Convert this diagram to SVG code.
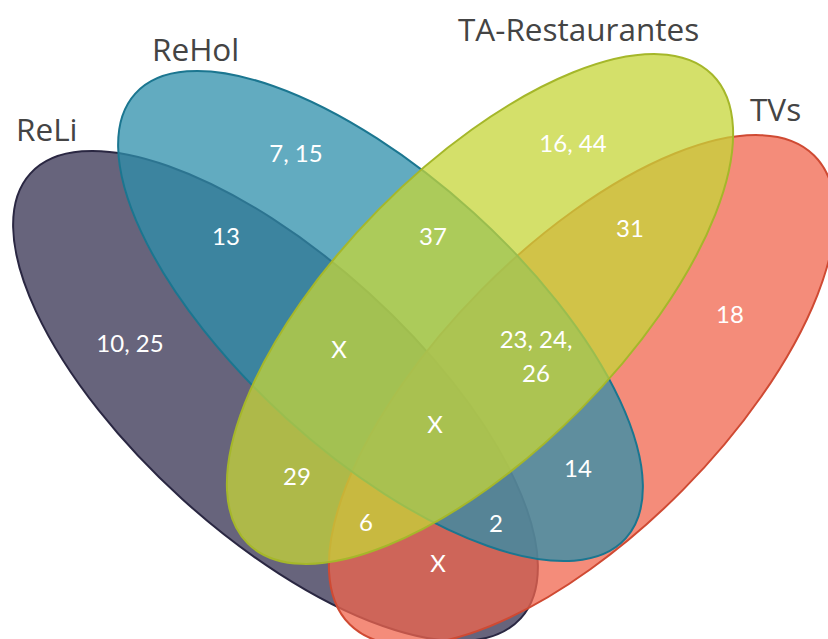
<svg xmlns="http://www.w3.org/2000/svg" width="828" height="639" viewBox="0 0 828 639">
<style>
.set{fill-opacity:0.75;stroke-width:2}
.title{font-family:"Open Sans","Liberation Sans",sans-serif;font-size:31.5px;fill:#444444}
.num{font-family:Lato,"Liberation Sans",sans-serif;font-size:24px;fill:#ffffff;text-anchor:middle}
</style>
<rect width="828" height="639" fill="#ffffff"/>
<g id="connectors"/>
<g id="ReLi">
<ellipse class="set" cx="275.5" cy="396" rx="331" ry="139" transform="rotate(42.2 275.5 396)" fill="#343050" stroke="#2a2742"/>
</g>
<g id="TVs">
<ellipse class="set" cx="582" cy="390" rx="330" ry="142" transform="rotate(-45.3 582 390)" fill="#f0664e" stroke="#cf4a33"/>
</g>
<g id="ReHol">
<ellipse class="set" cx="380.5" cy="316" rx="331" ry="139" transform="rotate(42.2 380.5 316)" fill="#2e8fab" stroke="#1b7690"/>
</g>
<g id="TA-Restaurantes">
<ellipse class="set" cx="480" cy="309" rx="330" ry="142" transform="rotate(-45.3 480 309)" fill="#c6d638" stroke="#a5b72a"/>
</g>
<g id="titles">
<text class="title" x="16" y="141">ReLi</text>
<text class="title" x="152" y="61">ReHol</text>
<text class="title" x="458" y="41">TA-Restaurantes</text>
<text class="title" x="750" y="121">TVs</text>
</g>
<g id="labels">
<text class="num" x="296" y="162">7, 15</text>
<text class="num" x="226" y="245">13</text>
<text class="num" x="573" y="152">16, 44</text>
<text class="num" x="433" y="245">37</text>
<text class="num" x="630" y="237">31</text>
<text class="num" x="730" y="323">18</text>
<text class="num" x="130" y="352">10, 25</text>
<text class="num" x="339" y="358">X</text>
<text class="num" x="536" y="348">23, 24,</text>
<text class="num" x="536" y="382">26</text>
<text class="num" x="435" y="433">X</text>
<text class="num" x="297" y="485">29</text>
<text class="num" x="578" y="477">14</text>
<text class="num" x="366" y="531">6</text>
<text class="num" x="496" y="532">2</text>
<text class="num" x="438" y="572">X</text>
</g>
</svg>
